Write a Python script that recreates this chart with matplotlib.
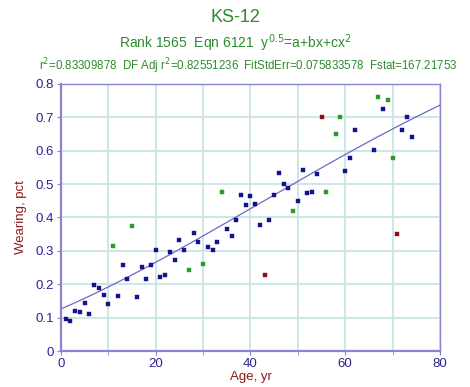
import numpy as np
import matplotlib
matplotlib.use('Agg')
import matplotlib.pyplot as plt
from matplotlib.ticker import MultipleLocator

plt.rcParams['font.family'] = ['Liberation Sans', 'DejaVu Sans']

# age (yr) and wearing (pct)
age = [1, 2, 3, 4, 5, 6, 7, 8, 9, 10,
       11, 12, 13, 14, 15, 16, 17, 18, 19, 20,
       21, 22, 23, 24, 25, 26, 27, 28, 29, 30,
       31, 32, 33, 34, 35, 36, 37, 38, 39, 40,
       41, 42, 43, 44, 45, 46, 47, 48, 49, 50,
       51, 52, 53, 54, 55, 56, 58, 59, 60, 61,
       62, 66, 67, 68, 69, 70, 71, 72, 73, 74]
wear = [0.097, 0.091, 0.119, 0.117, 0.143, 0.111, 0.199, 0.188, 0.167, 0.140,
        0.316, 0.165, 0.257, 0.216, 0.375, 0.163, 0.252, 0.216, 0.257, 0.302,
        0.222, 0.228, 0.297, 0.273, 0.332, 0.302, 0.242, 0.353, 0.328, 0.260,
        0.313, 0.302, 0.326, 0.477, 0.366, 0.344, 0.392, 0.468, 0.436, 0.464,
        0.441, 0.378, 0.228, 0.391, 0.467, 0.533, 0.501, 0.488, 0.420, 0.448,
        0.543, 0.474, 0.477, 0.531, 0.700, 0.477, 0.651, 0.700, 0.540, 0.577,
        0.662, 0.601, 0.760, 0.726, 0.752, 0.577, 0.352, 0.663, 0.702, 0.641]
# point colour class: 0 = normal, 1 = green, 2 = red
flag = [0, 0, 0, 0, 0, 0, 0, 0, 0, 0,
        1, 0, 0, 0, 1, 0, 0, 0, 0, 0,
        0, 0, 0, 0, 0, 0, 1, 0, 0, 1,
        0, 0, 0, 1, 0, 0, 0, 0, 0, 0,
        0, 0, 2, 0, 0, 0, 0, 0, 1, 0,
        0, 0, 0, 0, 2, 1, 1, 1, 0, 0,
        0, 0, 1, 0, 1, 1, 2, 0, 0, 0]

# fitted coefficients of y^0.5 = a + bx + cx^2
coef_a = 0.355
coef_b = 0.00861
coef_c = -2.9e-5

age = np.array(age, dtype=float)
wear = np.array(wear)
flag = np.array(flag)

xs = np.linspace(0, 80, 200)
ys = (coef_a + coef_b * xs + coef_c * xs ** 2) ** 2

fig = plt.figure(figsize=(4.7, 3.87), dpi=100)
ax = fig.add_axes([0.1298, 0.093, 0.8062, 0.690])

ax.plot(xs, ys, color='#6f68c8', lw=0.9, zorder=2)
cols = {0: '#14148a', 1: '#2a9a2a', 2: '#8b1010'}
for k, c in cols.items():
    m = flag == k
    ax.plot(age[m], wear[m], 's', ms=2.2, color=c, mec=c, mew=0.3, zorder=3)

ax.set_xlim(0, 80)
ax.set_ylim(0, 0.8)
ax.xaxis.set_major_locator(MultipleLocator(20))
ax.xaxis.set_minor_locator(MultipleLocator(10))
ax.yaxis.set_major_locator(MultipleLocator(0.1))
ax.yaxis.set_major_formatter(plt.FuncFormatter(lambda v, p: '0' if v == 0 else '%.1f' % v))
ax.grid(True, which='both', color='#c8e4e4', lw=1.3)
ax.set_axisbelow(True)

for s in ax.spines.values():
    s.set_color('#8a82d2')
    s.set_linewidth(1.0)
ax.spines['left'].set_linewidth(1.6)
ax.spines['bottom'].set_linewidth(1.6)

ax.tick_params(which='both', direction='out', length=3, color='#8a82d2',
               labelcolor='#2a2490', labelsize=9.5, pad=2)

ax.set_xlabel('Age, yr', color='#8b1a1a', fontsize=9.5, labelpad=1)
ax.set_ylabel('Wearing, pct', color='#8b1a1a', fontsize=9.5, labelpad=6)

fig.text(0.5, 1 - 17 / 387, 'KS-12', ha='center', va='center',
         color='#2e8b2e', fontsize=13)
fig.text(0.5, 1 - 43 / 387, r'Rank 1565  Eqn 6121  y$^{0.5}$=a+bx+cx$^{2}$',
         ha='center', va='center', color='#2e8b2e', fontsize=10)
fig.text(0.529, 1 - 66 / 387,
         r'r$^{2}$=0.83309878  DF Adj r$^{2}$=0.82551236  FitStdErr=0.075833578  Fstat=167.21753',
         ha='center', va='center', color='#2e8b2e', fontsize=8.3)

fig.savefig('out.png', dpi=100)
